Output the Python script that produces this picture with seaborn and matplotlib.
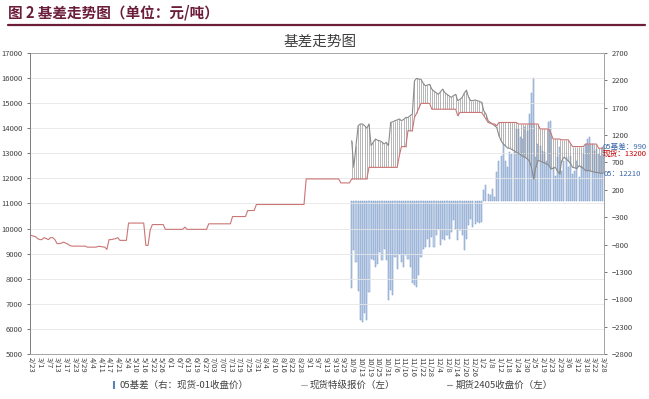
import numpy as np
import pandas as pd
import matplotlib
matplotlib.use("Agg")
import matplotlib.pyplot as plt
from matplotlib.lines import Line2D
import seaborn as sns

# x-axis tick labels (every 4th trading day)
tick_labels = ['2/23', '3/1', '3/7', '3/13', '3/17', '3/23', '3/29', '4/4', '4/11', '4/17',
               '4/21', '5/4', '5/10', '5/16', '5/22', '5/26', '6/1', '6/7', '6/13', '6/19',
               '6/27', '7/03', '7/07', '7/13', '7/19', '7/25', '7/31', '8/4', '8/10', '8/16',
               '8/22', '8/28', '9/1', '9/7', '9/13', '9/19', '9/25', '10/9', '10/13', '10/19',
               '10/25', '10/31', '11/6', '11/10', '11/16', '11/22', '11/28', '12/4', '12/8', '12/14',
               '12/20', '12/26', '1/2', '1/8', '1/12', '1/18', '1/24', '1/30', '2/5', '2/19',
               '2/23', '2/29', '3/6', '3/12', '3/18', '3/22', '3/28']

# spot price (left axis), one value per trading day
spot = ([9730, 9700, 9680, 9600, 9560, 9560, 9640, 9600, 9560, 9640,
         9640, 9560, 9400, 9400, 9420, 9460, 9420, 9380, 9320]
        + [9300] * 7 + [9260] * 5
        + [9290, 9290, 9270, 9260, 9170, 9560, 9560, 9580, 9600, 9640]
        + [9530] * 4 + [10220] * 8 + [9330, 9330, 9950] + [10160] * 6
        + [9970] * 9 + [10060] + [9970] * 10 + [10190] * 11 + [10480] * 7
        + [10720] * 4 + [10960] * 23 + [11980] * 16 + [11820] * 5
        + [11980] * 8 + [12440] * 14 + [12900, 13270, 13270, 13270, 13900, 13900, 13900,
                                        14430, 14600, 14800]
        + [14990] * 5 + [14760] * 12 + [14500] + [14630] * 11
        + [14500, 14370, 14230, 14200, 14170, 14170, 14100] + [14230] * 9
        + [14170] * 10 + [13970] * 5 + [13800] + [13570] * 4 + [13540] * 4
        + [13400] + [13270] * 6 + [13370] * 6 + [13200] * 3)

# futures 2405 close (left axis), from 10/9 on
futures = [13500, 12440, 13300, 14100, 14170, 14170, 14100, 14000, 14170, 13300,
           13450, 13570, 13520, 13500, 13450, 13370, 13440, 13300, 14230, 14260,
           14300, 14330, 14370, 14300, 14350, 14430, 14430, 14500, 14560, 15890,
           15990, 15960, 15950, 15800, 15690, 15720, 15750, 15560, 15480, 15420,
           15350, 15450, 15560, 15420, 15350, 15290, 15230, 15300, 15350, 15100,
           15150, 15230, 15400, 15520, 15230, 15100, 15100, 15130, 15100, 15070,
           15030, 14700, 14560, 14300, 14230, 14170, 14100, 14030, 13700, 13500,
           13370, 13300, 13210, 13200, 13150, 13100, 13040, 13000, 12950, 12870,
           12850, 12780, 12700, 12440, 11980, 12440, 12710, 12700, 12650, 12620,
           12580, 12520, 12380, 12400, 12440, 12300, 12180, 12710, 12840, 12780,
           12700, 12600, 12440, 12420, 12400, 12510, 12450, 12400, 12310, 12320,
           12300, 12280, 12250, 12240, 12230, 12200, 12210]

# 05 basis (right axis), from 10/9 on
basis = [-1590, -892, -1118, -1646, -2180, -2210, -2058, -2180, -1664, -1056,
         -1087, -1209, -1147, -936, -1087, -874, -1087, -1815, -1633, -1724,
         -1027, -1238, -966, -1118, -1209, -996, -1056, -1209, -1511, -1541,
         -1573, -1360, -1027, -874, -844, -692, -844, -663, -844, -632,
         -510, -814, -692, -723, -632, -692, -571, -359, -510, -723,
         -541, -632, -905, -692, -450, -329, -480, -420, -390, -405,
         -390,
         188, 279, 127, 97, 218, 66, 521, 734, 825, 1038,
         734, 612, 885, 855, 885, 1311, 1311, 1159, 1128, 1340,
         1280, 1584, 1978, 2251, 794, 1038, 1007, 916, 885, 734,
         1431, 1462, 612, 461, 794, 976, 552, 734, 794, 612,
         825, 491, 552, 734, 430, 643, 855, 1038, 1128, 1158,
         1038, 916, 946, 855, 825, 990]

n = len(spot)
start = n - len(futures)
idx_all = np.arange(n)
idx_fut = np.arange(start, n)

sns.set_style("white")
plt.rcParams['font.family'] = ['Noto Sans CJK SC', 'DejaVu Sans']

fig = plt.figure(figsize=(6.49, 3.99), dpi=100)
ax = fig.add_axes([30 / 649, 1 - 354 / 399, 574 / 649, 301 / 399])
ax2 = ax.twinx()

# basis bars on right axis
ax2.bar(idx_fut, basis, width=0.5, color='#c9d8ee', edgecolor='#6f93c4', linewidth=0.35, zorder=1)
ax2.set_ylim(-2800, 2700)
ax2.set_yticks(np.arange(-2800, 2701, 500))

ax.set_zorder(ax2.get_zorder() + 1)
ax.patch.set_visible(False)

# high-low lines between spot and futures
spot_f = np.array(spot)[start:]
ax.vlines(idx_fut, np.minimum(spot_f, futures), np.maximum(spot_f, futures),
          color='#999999', linewidth=0.5, zorder=2)

df_spot = pd.DataFrame({'i': idx_all, 'v': spot})
df_fut = pd.DataFrame({'i': idx_fut, 'v': futures})
sns.lineplot(data=df_fut, x='i', y='v', ax=ax, color='#8a8a8a', linewidth=0.8, zorder=3)
sns.lineplot(data=df_spot, x='i', y='v', ax=ax, color='#cc7575', linewidth=0.8, zorder=4)

ax.set_ylim(5000, 17000)
ax.set_yticks(np.arange(5000, 17001, 1000))
ax.set_xlim(-0.5, n - 0.5)
ax.set_xticks(np.arange(0, n, 4))
ax.set_xticklabels(tick_labels, rotation=-90, fontsize=5.5, color='#404040')
ax.set_xlabel('')
ax.set_ylabel('')
ax.yaxis.grid(True, color='#e6e6e6', linewidth=0.6)
ax.tick_params(axis='y', labelsize=5.5, colors='#404040', length=2, width=0.5)
ax.tick_params(axis='x', direction='in', length=3, width=0.5, color='#808080', pad=2)
ax2.tick_params(axis='y', labelsize=5.5, colors='#404040', length=2, width=0.5)
for a in (ax, ax2):
    for s in a.spines.values():
        s.set_color('#a6a6a6')
        s.set_linewidth(0.7)
    a.spines['top'].set_visible(False)
ax.spines['left'].set_color('#808080')
ax2.spines['right'].set_color('#808080')
ax.axhline(17000, color='#a6a6a6', linewidth=0.7)

# titles
fig.text(8 / 649, 1 - 13 / 399, '图 2 基差走势图（单位：元/吨）', fontsize=10.5, fontweight='bold',
         color='#6b1d3a', va='center', ha='left')
fig.add_artist(Line2D([8 / 649, 645 / 649], [1 - 25 / 399, 1 - 25 / 399], color='#6b1d3a',
                      linewidth=1.6, transform=fig.transFigure))
fig.text(320 / 649, 1 - 42 / 399, '基差走势图', fontsize=10.5, color='#404040', ha='center', va='center')

# end labels
fig.text(603 / 649, 1 - 147 / 399, '05基差：990', fontsize=5.5, color='#3a66a8', va='center')
fig.text(603 / 649, 1 - 154 / 399, '现货：13200', fontsize=5.5, color='#c00000', va='center')
fig.text(604 / 649, 1 - 174 / 399, '05：12210', fontsize=5.5, color='#3a66a8', va='center')

# legend
handles = [Line2D([], [], color='#5b80b4', marker='|', linestyle='None', markersize=6, markeredgewidth=1.5),
           Line2D([], [], color='#b0b0b0', linewidth=0.8),
           Line2D([], [], color='#8a8a8a', linewidth=0.8)]
labels = ['05基差（右：现货-01收盘价）', '现货特级报价（左）', '期货2405收盘价（左）']
fig.legend(handles, labels, loc='center', bbox_to_anchor=(332 / 649, 1 - 385 / 399), ncol=3,
           frameon=False, fontsize=6.8, handlelength=0.6, handletextpad=0.3, columnspacing=5.5,
           labelcolor='#404040')

fig.savefig('out.png', dpi=100)
